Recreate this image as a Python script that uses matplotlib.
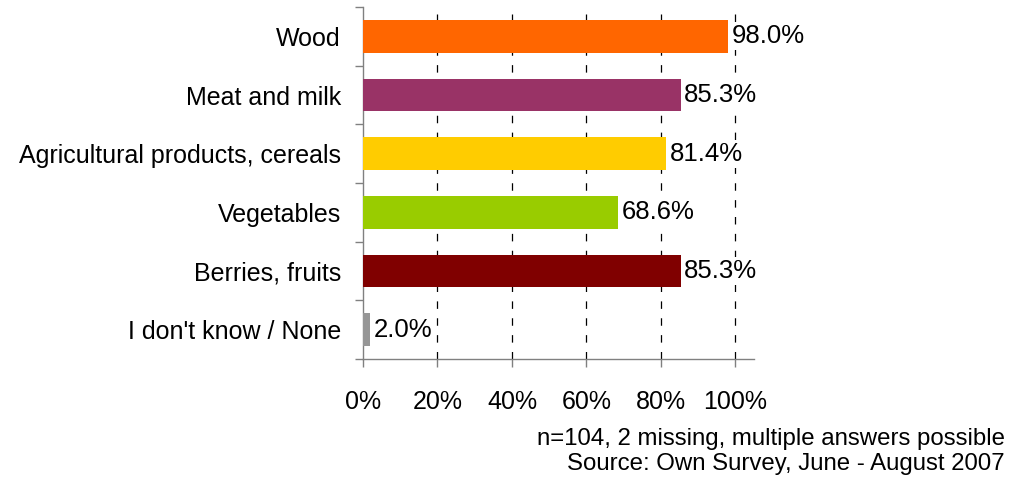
import matplotlib.pyplot as plt
from matplotlib.ticker import FixedLocator

categories = ["Wood", "Meat and milk", "Agricultural products, cereals",
              "Vegetables", "Berries, fruits", "I don't know / None"]
values = [98.0, 85.3, 81.4, 68.6, 85.3, 2.0]
colors = ["#FF6600", "#993366", "#FFCC00", "#99CC00", "#800000", "#969696"]
xticks = [0, 20, 40, 60, 80, 100]
note = "n=104, 2 missing, multiple answers possible\nSource: Own Survey, June - August 2007"


def main():
  plt.rcParams['font.family'] = ['Liberation Sans', 'DejaVu Sans']
  fig = plt.figure(figsize=(10.13, 4.79), dpi=100)
  ax = fig.add_axes([363 / 1013, 1 - 359 / 479, 391 / 1013, 352 / 479])

  pos = list(range(len(categories)))
  ax.barh(pos, values, height=0.56, color=colors, zorder=3)
  for p, v in zip(pos, values):
    ax.text(v + 1.0, p, "%.1f%%" % v, va="center", ha="left", fontsize=18.5, zorder=4,
            bbox=dict(facecolor="white", edgecolor="none", pad=1.5))

  ax.set_xlim(0, 105)
  ax.set_ylim(len(categories) - 0.5, -0.5)

  ax.set_xticks(xticks)
  ax.set_xticklabels(["%d%%" % t for t in xticks])
  ax.set_yticks(pos)
  ax.set_yticklabels(categories)
  ax.yaxis.set_minor_locator(FixedLocator([i - 0.5 for i in range(len(categories) + 1)]))

  ax.tick_params(axis="y", which="major", length=0, pad=16, labelsize=18)
  ax.tick_params(axis="y", which="minor", length=6, width=1, color="#808080", direction="out")
  ax.tick_params(axis="x", length=6, width=1, color="#808080", direction="out", pad=16, labelsize=18)

  for t in xticks[1:]:
    ax.axvline(t, color="black", linewidth=0.9, linestyle=(0, (6, 7.5)), zorder=1)

  for s in ["top", "right"]:
    ax.spines[s].set_visible(False)
  for s in ["left", "bottom"]:
    ax.spines[s].set_color("#808080")
    ax.spines[s].set_linewidth(1)

  fig.text(1005 / 1013, 1 - 428 / 479, note, ha="right", va="top", fontsize=17.3, linespacing=1.2)

  fig.savefig("out.png", dpi=100)


if __name__ == "__main__":
  main()
